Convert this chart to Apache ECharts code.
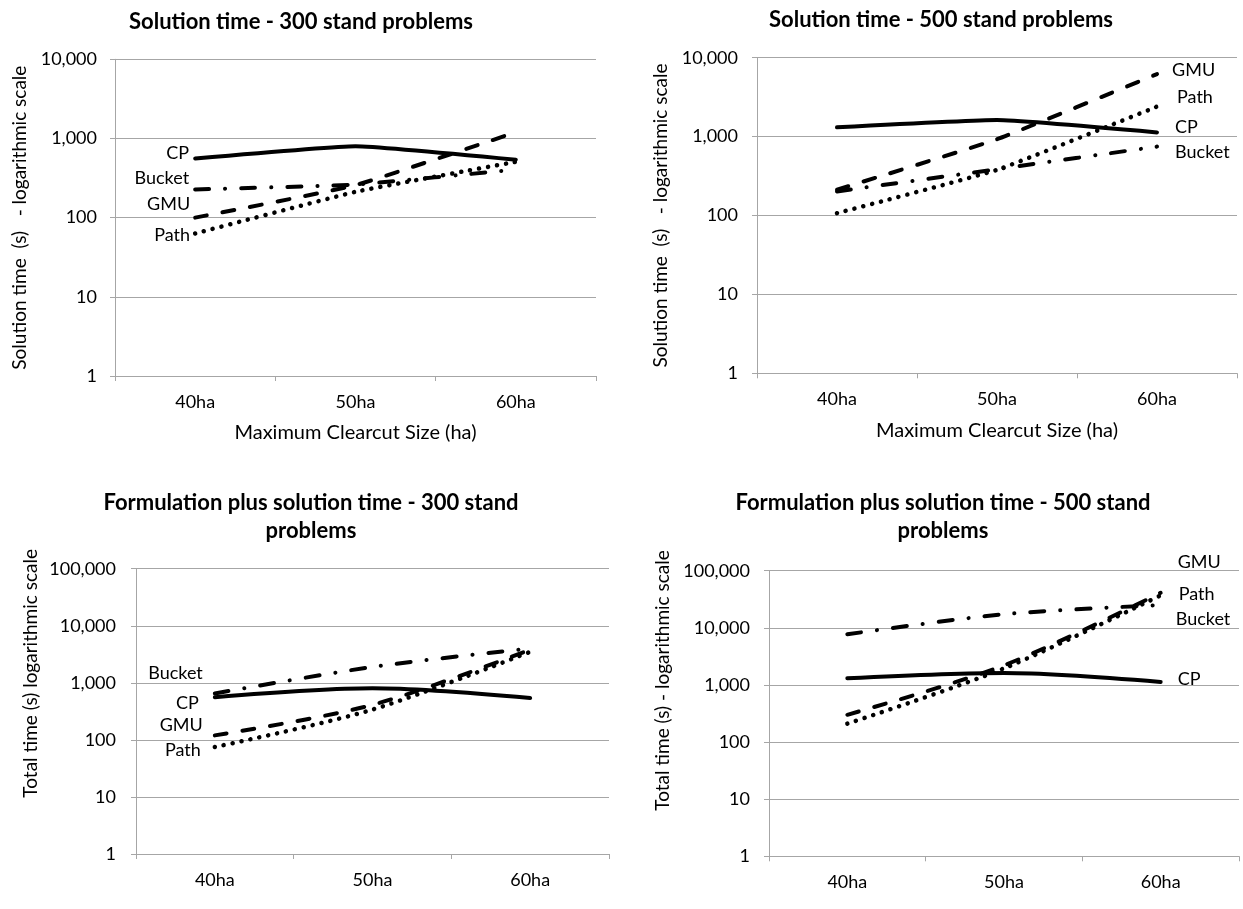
<!DOCTYPE html>
<html>
<head>
<meta charset="utf-8">
<script src="https://cdn.jsdelivr.net/npm/echarts@6/dist/echarts.min.js"></script>
<style>
html,body{margin:0;padding:0;background:#fff;}
#chart{width:1243px;height:909px;}
</style>
</head>
<body>
<div id="chart"></div>
<script>
// ---- data ----
const categories = ['40ha', '50ha', '60ha'];

// Solution time - 300 stand problems
const sol300CP = [560, 800, 540];
const sol300Bucket = [227, 262, 405];
const sol300GMU = [100, 257, 1200];
const sol300Path = [63, 212, 507];

// Solution time - 500 stand problems
const sol500CP = [1310, 1620, 1130];
const sol500GMU = [212, 925, 6200];
const sol500Path = [107, 379, 2400];
const sol500Bucket = [202, 386, 747];

// Formulation plus solution time - 300 stand problems
const tot300CP = [560, 800, 540];
const tot300Bucket = [650, 1900, 4000];
const tot300GMU = [120, 410, 3800];
const tot300Path = [75, 340, 3500];

// Formulation plus solution time - 500 stand problems
const tot500CP = [1310, 1620, 1130];
const tot500Bucket = [7700, 17300, 25000];
const tot500GMU = [300, 2200, 41000];
const tot500Path = [210, 1950, 37000];

const yMinAll = 1;
const yMaxSolution = 10000;
const yMaxTotal = 100000;

const titles = [
  'Solution time - 300 stand problems',
  'Solution time - 500 stand problems',
  'Formulation plus solution time - 300 stand\nproblems',
  'Formulation plus solution time - 500 stand\nproblems'
];
const yNames = [
  'Solution time  (s)   - logarithmic scale',
  'Solution time  (s)   - logarithmic scale',
  'Total time (s) logarithmic scale',
  'Total time (s) - logarithmic scale'
];
const xName = 'Maximum Clearcut Size (ha)';

// ---- styles ----
const FONT = 'Lato';
const TXT = '#000';
const GRIDC = '#a6a6a6';
const LW = 4;
const styles = {
  CP: { type: 'solid', width: LW, cap: 'round' },
  GMU: { type: [12, 16], width: LW, cap: 'round' },
  Bucket: { type: [14, 16, 0.1, 16], width: LW, cap: 'round' },
  Path: { type: [0.1, 9], width: 4.5, cap: 'round' }
};

const grids = [
  { left: 115, top: 59.3, width: 481, height: 316.7 },
  { left: 757, top: 57.7, width: 480, height: 315.6 },
  { left: 136, top: 568.7, width: 473, height: 285.3 },
  { left: 769, top: 570.7, width: 470, height: 285.6 }
];
const smoothness = [0.12, 0.12, 0.3, 0.3];

function fmt(v) {
  return Math.round(v).toLocaleString('en-US');
}

function xAxis(gi, withName) {
  return {
    type: 'category', gridIndex: gi, data: categories, boundaryGap: true,
    name: withName ? xName : '', nameLocation: 'middle', nameGap: 47,
    nameTextStyle: { fontFamily: FONT, fontSize: 20, color: TXT },
    axisLine: { show: true, lineStyle: { color: GRIDC, width: 1 } },
    axisTick: { show: true, interval: 0, alignWithLabel: false, length: 5, lineStyle: { color: GRIDC } },
    axisLabel: { fontFamily: FONT, fontSize: 18, color: TXT, margin: 17, interval: 0 },
    splitLine: { show: false }
  };
}

function yAxis(gi, max, nameGap, labelMargin, namePad) {
  return {
    type: 'log', logBase: 10, gridIndex: gi, min: yMinAll, max: max,
    name: yNames[gi], nameLocation: 'middle', nameGap: nameGap,
    nameTextStyle: { fontFamily: FONT, fontSize: 19, color: TXT, padding: namePad },
    axisLine: { show: true, lineStyle: { color: GRIDC, width: 1 } },
    axisTick: { show: true, length: 5, lineStyle: { color: GRIDC } },
    minorTick: { show: false },
    axisLabel: { fontFamily: FONT, fontSize: 18, color: TXT, margin: labelMargin, formatter: fmt },
    splitLine: { show: true, lineStyle: { color: GRIDC, width: 1 } }
  };
}

function mkSeries(gi, name, values, labelIdx, pos, dist, offset) {
  return {
    type: 'line', name: name, xAxisIndex: gi, yAxisIndex: gi,
    smooth: smoothness[gi], symbol: 'circle', symbolSize: 0.1, showSymbol: true,
    itemStyle: { color: 'rgba(0,0,0,0)' },
    lineStyle: Object.assign({ color: '#000' }, styles[name]),
    emphasis: { disabled: true },
    z: name === 'CP' ? 3 : 2,
    data: values.map(function (v, i) {
      if (i !== labelIdx) return v;
      return {
        value: v,
        label: {
          show: true, position: pos, distance: dist, offset: offset,
          formatter: name, fontFamily: FONT, fontSize: 18, color: TXT
        }
      };
    })
  };
}

const series = [
  // panel 1
  mkSeries(0, 'CP', sol300CP, 0, 'left', 6, [0, -5]),
  mkSeries(0, 'Bucket', sol300Bucket, 0, 'left', 6, [0, -11]),
  mkSeries(0, 'GMU', sol300GMU, 0, 'left', 5, [0, -13]),
  mkSeries(0, 'Path', sol300Path, 0, 'left', 5, [0, 2]),
  // panel 2
  mkSeries(1, 'CP', sol500CP, 2, 'right', 18, [0, -5]),
  mkSeries(1, 'GMU', sol500GMU, 2, 'right', 15, [0, -4]),
  mkSeries(1, 'Path', sol500Path, 2, 'right', 20, [0, -9]),
  mkSeries(1, 'Bucket', sol500Bucket, 2, 'right', 18, [0, 6]),
  // panel 3
  mkSeries(2, 'CP', tot300CP, 0, 'left', 16, [0, 6]),
  mkSeries(2, 'Bucket', tot300Bucket, 0, 'left', 12, [0, -20]),
  mkSeries(2, 'GMU', tot300GMU, 0, 'left', 12, [0, -10]),
  mkSeries(2, 'Path', tot300Path, 0, 'left', 14, [0, 3]),
  // panel 4
  mkSeries(3, 'CP', tot500CP, 2, 'right', 17, [0, -3]),
  mkSeries(3, 'Bucket', tot500Bucket, 2, 'right', 15, [0, 14]),
  mkSeries(3, 'GMU', tot500GMU, 2, 'right', 17, [0, -31]),
  mkSeries(3, 'Path', tot500Path, 2, 'right', 18, [0, -1])
];

const chart = echarts.init(document.getElementById('chart'), null, { renderer: 'canvas' });
chart.setOption({
  backgroundColor: '#fff',
  animation: false,
  title: [
    { text: titles[0], left: 301, top: 8, textAlign: 'center' },
    { text: titles[1], left: 941, top: 6, textAlign: 'center' },
    { text: titles[2], left: 311, top: 489, textAlign: 'center' },
    { text: titles[3], left: 943, top: 489, textAlign: 'center' }
  ].map(function (t) {
    t.textStyle = { fontFamily: FONT, fontSize: 22, fontWeight: 'bold', color: TXT, lineHeight: 28 };
    t.padding = 0;
    return t;
  }),
  grid: grids.map(function (g) { return Object.assign({ containLabel: false }, g); }),
  xAxis: [xAxis(0, true), xAxis(1, true), xAxis(2, false), xAxis(3, false)],
  yAxis: [
    yAxis(0, yMaxSolution, 86, 18, [0, 0, 0, 0]),
    yAxis(1, yMaxSolution, 87, 19, [0, 0, 0, 0]),
    yAxis(2, yMaxTotal, 96, 20, [0, 0, 0, 76]),
    yAxis(3, yMaxTotal, 97, 19, [0, 0, 0, 66])
  ],
  series: series
});
</script>
</body>
</html>
